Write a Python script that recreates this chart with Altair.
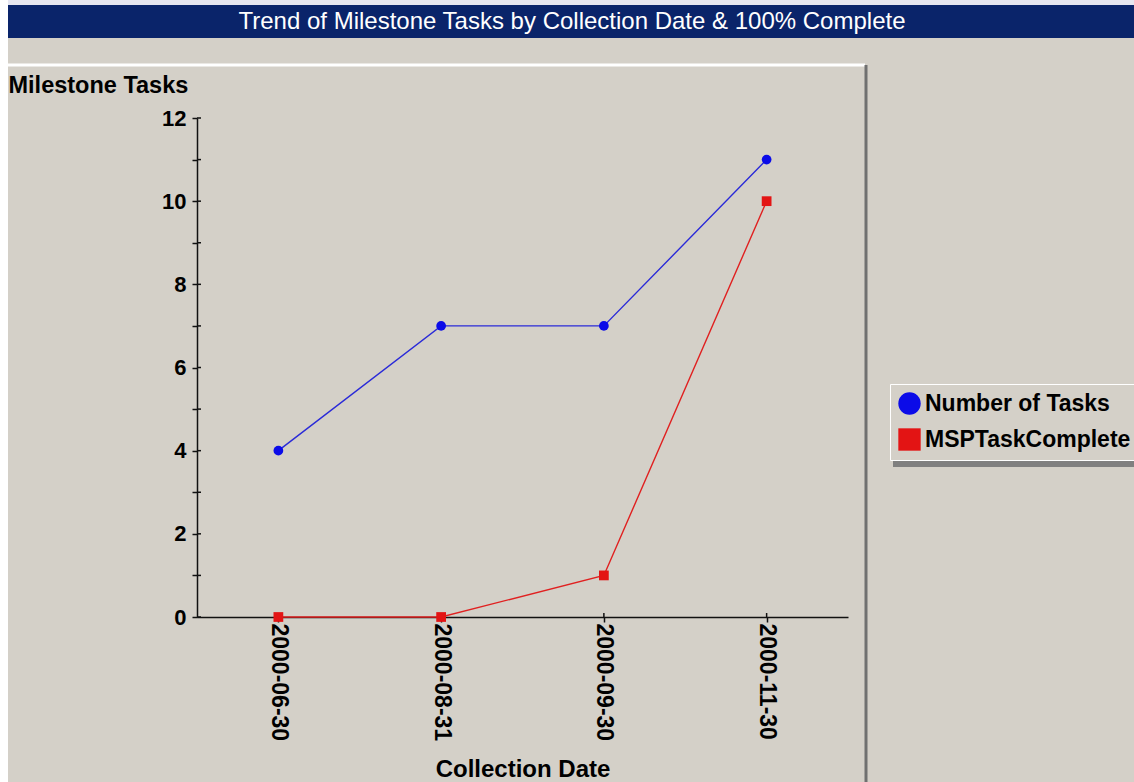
import altair as alt
import pandas as pd

# ---- chart values -------------------------------------------------------
collection_dates = ["2000-06-30", "2000-08-31", "2000-09-30", "2000-11-30"]
number_of_tasks = [4, 7, 7, 11]
task_complete = [0, 0, 1, 10]
series_names = ["Number of Tasks", "MSPTaskComplete"]
point_colors = ["#0b0be8", "#e31414"]
line_colors = ["#2a2ad8", "#e02020"]
point_shapes = ["circle", "square"]
y_tick_values = list(range(0, 13))
chart_title = "Trend of Milestone Tasks by Collection Date & 100% Complete"

# long-form table built from the series lists
rows = []
for name, values in zip(series_names, [number_of_tasks, task_complete]):
    for d, v in zip(collection_dates, values):
        rows.append({"date": d, "series": name, "tasks": v})
df = pd.DataFrame(rows)

# ---- layout ---------------------------------------------------------------
W, H = 651, 499
PAD = {"left": 197, "top": 118, "right": 286, "bottom": 165}
BG = "#d4d0c8"
FONT = "Liberation Sans"

one_row = pd.DataFrame({"k": [0]})


def panel_rect(x, x2, y, y2, color):
    return alt.Chart(one_row).mark_rect(color=color).encode(
        x=alt.value(x), x2=alt.value(x2), y=alt.value(y), y2=alt.value(y2)
    )


def panel_rule(x, x2, y, y2, color, width):
    return alt.Chart(one_row).mark_rule(color=color, strokeWidth=width).encode(
        x=alt.value(x), x2=alt.value(x2), y=alt.value(y), y2=alt.value(y2)
    )


# window frame: white left edge, title bar, bevelled chart panel, legend shadow
left_edge = panel_rect(-197, -189, -118, 664, "#ffffff")
top_edge = panel_rect(-189, 937, -118, -113, "#e6e6f0")
title_bar = panel_rect(-189, 937, -113, -80, "#0a246a")
panel_top = panel_rule(-189, 668, -53, -53, "#ffffff", 3)
panel_right = panel_rule(669, 669, -53, 664, "#707070", 3)
legend_shadow = panel_rect(696, 937, 270, 349, "#808080")

title_text = alt.Chart(one_row).mark_text(
    text=chart_title, color="#ffffff", font=FONT, fontSize=24,
    align="center", baseline="middle",
).encode(x=alt.value(375), y=alt.value(-96))

x_enc = alt.X(
    "date:O",
    sort=collection_dates,
    scale=alt.Scale(type="point", padding=0.5),
    axis=alt.Axis(
        title="Collection Date",
        labelAngle=90,
        labelAlign="left",
        labelBaseline="middle",
        labelPadding=1,
        labelFontSize=23,
        titleFontSize=24,
        titleBaseline="alphabetic",
        titleY=159,
    ),
)

y_enc = alt.Y(
    "tasks:Q",
    scale=alt.Scale(domain=[0, 12], nice=False),
    axis=alt.Axis(
        title="Milestone Tasks",
        values=y_tick_values,
        labelExpr="datum.value % 2 == 0 ? datum.label : ''",
        labelPadding=6,
        labelFontSize=22,
        titleFontSize=23.5,
        titleAngle=0,
        titleAlign="left",
        titleBaseline="alphabetic",
        titleX=-189,
        titleY=-26,
    ),
)

series_legend = alt.Legend(
    title=None,
    orient="none",
    legendX=693,
    legendY=266,
    direction="vertical",
    fillColor=BG,
    strokeColor="#ffffff",
    padding=8,
    labelFont=FONT,
    labelFontWeight="bold",
    labelFontSize=23,
    labelColor="#000000",
    labelLimit=400,
    labelOffset=4,
    symbolSize=500,
    symbolStrokeWidth=0,
    rowPadding=12,
)

# inner halves of the axis ticks, so the ticks cross the axis lines
y_inner_ticks = (
    alt.Chart(pd.DataFrame({"tasks": y_tick_values}))
    .mark_rule(color="#111111", strokeWidth=1.5)
    .encode(y=y_enc, x=alt.value(0), x2=alt.value(4))
)
x_inner_ticks = (
    alt.Chart(pd.DataFrame({"date": collection_dates}))
    .mark_rule(color="#111111", strokeWidth=1.5)
    .encode(x=x_enc, y=alt.value(H - 4), y2=alt.value(H))
)

base = alt.Chart(df)

# one connecting line per series
line_layers = [
    base.transform_filter(alt.datum.series == name)
    .mark_line(strokeWidth=1.4, color=col)
    .encode(x=x_enc, y=y_enc)
    for name, col in zip(series_names, line_colors)
]

points = base.mark_point(filled=True, opacity=1, size=95).encode(
    x=x_enc,
    y=y_enc,
    color=alt.Color(
        "series:N",
        scale=alt.Scale(domain=series_names, range=point_colors),
        legend=series_legend,
    ),
    shape=alt.Shape(
        "series:N",
        scale=alt.Scale(domain=series_names, range=point_shapes),
        legend=series_legend,
    ),
)

chart = (
    alt.layer(
        left_edge, top_edge, title_bar, panel_top, panel_right, legend_shadow,
        y_inner_ticks, x_inner_ticks, *line_layers, points, title_text,
    )
    .properties(width=W, height=H, autosize="none", padding=PAD)
    .configure(background=BG)
    .configure_view(stroke=None)
    .configure_axis(
        grid=False,
        labelFont=FONT,
        labelFontWeight="bold",
        labelColor="#000000",
        titleFont=FONT,
        titleFontWeight="bold",
        titleColor="#000000",
        domainColor="#111111",
        domainWidth=1.5,
        tickColor="#111111",
        tickWidth=1.5,
        tickSize=5,
    )
)

chart.save("out.html", embed_options={"renderer": "svg", "actions": False})
